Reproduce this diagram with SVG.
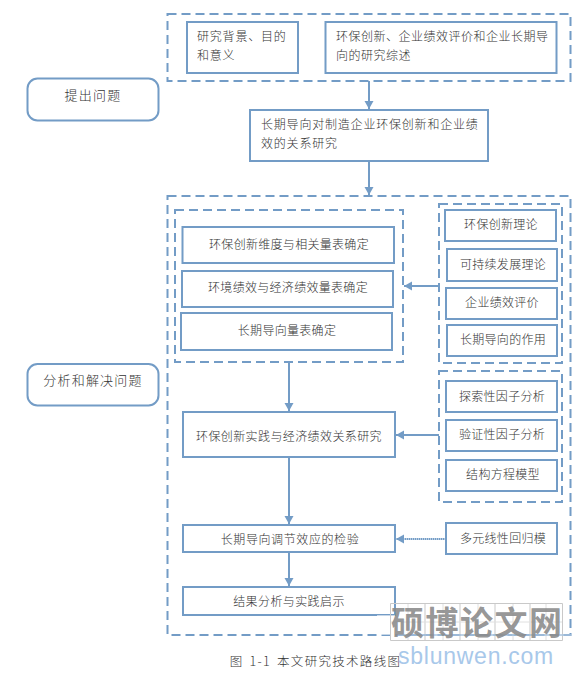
<svg xmlns="http://www.w3.org/2000/svg" width="579" height="674" viewBox="0 0 579 674">
<style>
text{font-family:"Noto Sans CJK SC","Liberation Sans",sans-serif;font-size:12px;fill:#333;letter-spacing:.3px;font-weight:300}
.m{text-anchor:middle}
.p{font-size:13px;letter-spacing:1.200px}
.w{letter-spacing:.8px}
.b{fill:#fff;stroke:#739cc6;stroke-width:2}
.d{fill:none;stroke:#739cc6;stroke-width:2;stroke-dasharray:9 5}
.c{fill:none;stroke:#739cc6;stroke-width:2}
.g{fill:none;stroke:#c9c9c9;stroke-width:1}
.h{fill:none;stroke:#e0e0e0;stroke-width:1}
</style>
<defs>
<marker id="a" markerUnits="userSpaceOnUse" markerWidth="10" markerHeight="10" refX="9" refY="5" orient="auto"><path d="M1 0.5L9 5L1 9.5Z" fill="#739cc6"/></marker>
</defs>
<g id="frame-top"><rect class="d" x="167.500" y="14" width="403" height="67"/></g>
<g id="frame-main"><rect class="d" x="167.500" y="196" width="403" height="439"/></g>
<g id="frame-scales"><rect class="d" x="175" y="210" width="228" height="152"/></g>
<g id="frame-theories"><rect class="d" x="439" y="204" width="123" height="159"/></g>
<g id="frame-methods"><rect class="d" x="439" y="371" width="123" height="131"/></g>
<g id="connectors">
<path class="c" marker-end="url(#a)" d="M369 81V109"/>
<path class="c" marker-end="url(#a)" d="M369 161V195"/>
<path class="c" marker-end="url(#a)" d="M439 286H404"/>
<path class="c" marker-end="url(#a)" d="M289 362V411"/>
<path class="c" marker-end="url(#a)" d="M439 435H396"/>
<path class="c" marker-end="url(#a)" d="M289 457V524"/>
<path class="c" stroke-dasharray="1.500 .5" marker-end="url(#a)" d="M446 539H396"/>
<path class="c" marker-end="url(#a)" d="M289 552V586"/>
</g>
<g id="ask"><rect class="b" x="27.500" y="78.500" width="131" height="42" rx="10"/><text class="m p" x="93" y="100">提出问题</text></g>
<g id="solve"><rect class="b" x="27.500" y="364" width="131" height="41.500" rx="10"/><text class="m p" x="93" y="385">分析和解决问题</text></g>
<g id="background"><rect class="b" x="187" y="22" width="111" height="51"/><text class="w" x="197" y="41">研究背景、目的</text><text class="w" x="197" y="60">和意义</text></g>
<g id="review"><rect class="b" x="325.500" y="22" width="231" height="51"/><text x="336" y="41" style="letter-spacing:.5px">环保创新、企业绩效评价和企业长期导</text><text x="336" y="60" style="letter-spacing:.5px">向的研究综述</text></g>
<g id="topic"><rect class="b" x="250" y="110" width="238" height="51"/><text class="w" x="261" y="129">长期导向对制造企业环保创新和企业绩</text><text class="w" x="261" y="148">效的关系研究</text></g>
<g id="scale-1"><rect class="b" x="182.500" y="227" width="211.500" height="36"/><text class="m" x="289" y="249">环保创新维度与相关量表确定</text></g>
<g id="scale-2"><rect class="b" x="182" y="271" width="211" height="36"/><text class="m" x="288" y="292">环境绩效与经济绩效量表确定</text></g>
<g id="scale-3"><rect class="b" x="181" y="313" width="211" height="37"/><text class="m" x="287" y="335">长期导向量表确定</text></g>
<g id="theory-1"><rect class="b" x="445" y="210" width="111" height="31"/><text class="m" x="501" y="229">环保创新理论</text></g>
<g id="theory-2"><rect class="b" x="447" y="249" width="110" height="32"/><text class="m" x="503" y="269">可持续发展理论</text></g>
<g id="theory-3"><rect class="b" x="446" y="288" width="111" height="31"/><text class="m" x="502" y="307">企业绩效评价</text></g>
<g id="theory-4"><rect class="b" x="447" y="325" width="110" height="31"/><text class="m" x="503" y="344">长期导向的作用</text></g>
<g id="method-1"><rect class="b" x="446" y="381" width="111" height="31"/><text class="m" x="502" y="401">探索性因子分析</text></g>
<g id="method-2"><rect class="b" x="446" y="420" width="111" height="31"/><text class="m" x="502" y="439">验证性因子分析</text></g>
<g id="method-3"><rect class="b" x="446" y="460" width="111" height="31"/><text class="m" x="503" y="479">结构方程模型</text></g>
<g id="method-4"><rect class="b" x="446" y="523" width="111" height="31"/><text class="m" x="503" y="543">多元线性回归模</text></g>
<g id="practice"><rect class="b" x="183" y="412" width="212" height="45"/><text class="m" x="289" y="441" style="letter-spacing:.4px">环保创新实践与经济绩效关系研究</text></g>
<g id="moderation"><rect class="b" x="183" y="525" width="212" height="27"/><text class="m" x="290" y="544" style="letter-spacing:.6px">长期导向调节效应的检验</text></g>
<g id="result"><rect class="b" x="183" y="587" width="212" height="28"/><text class="m" x="289" y="606" style="letter-spacing:.4px">结果分析与实践启示</text></g>
<text class="m" x="315.500" y="666" style="font-size:12.500px;letter-spacing:1.300px;word-spacing:2px">图 1-1 本文研究技术路线图</text>
<g id="watermark">
<path fill="#fff" fill-opacity=".6" d="M377 615H395V635H377Z"/>
<path class="g" d="M390.500 603.500H562.500V640.500H390.500ZM425 603.500V640.500M460 603.500V640.500M495 603.500V640.500M530 603.500V640.500"/>
<path class="h" d="M408 604V640M443 604V640M478 604V640M513 604V640M546 604V640M391 622H562"/>
<path d="M395 635H571" stroke="#a9c3de" stroke-width="1.500" fill="none"/>
<text x="391" y="635" style="font-size:33px;font-weight:700;fill:#8a8a8a;letter-spacing:1.500px;fill-opacity:.9">硕博论文网</text>
<text x="398" y="664" style="font-family:'Liberation Sans',sans-serif;font-size:23px;font-weight:400;fill:#a8c8ea;letter-spacing:.75px">sblunwen.com</text>
</g>
</svg>
